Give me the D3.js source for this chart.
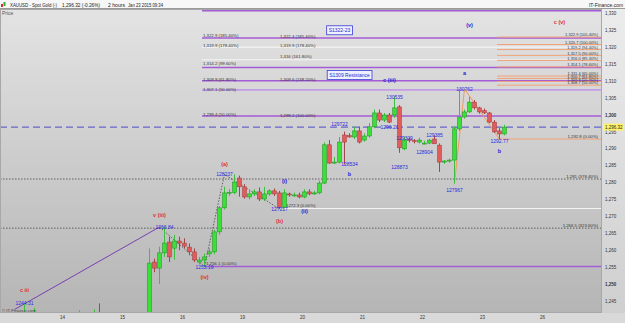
<!DOCTYPE html>
<html>
<head>
<meta charset="utf-8">
<script src="https://cdn.jsdelivr.net/npm/d3@7/dist/d3.min.js"></script>
<style>
  body { margin: 0; background: #fff; }
  text { font-family: "Liberation Sans", Arial, sans-serif; }
</style>
</head>
<body>
<div id="chart"></div>
<script>
const W = 625, H = 323;
const plot = { left: 0, top: 9, right: 602, bottom: 313 };

// day labels on the time axis (bar index of each day start, 2h bars)
const dayTicks = [0, 12, 24, 36, 48, 60, 72, 84, 96];
const dayLabels = ["14", "15", "16", "19", "20", "21", "22", "23", "26"];
const priceTicks = d3.range(1245, 1331, 5);

// 2 hour candles, bar index + OHLC
const bars   = [-8, -6, 3, 6, 7, 17, 18, 19, 20, 21, 22, 23, 24, 25, 26, 27, 28, 29, 30, 31, 32, 33, 34, 35, 36, 37, 38, 39, 40, 41, 42, 43, 44, 45, 46, 47, 48, 49, 50, 51, 52, 53, 54, 55, 56, 57, 58, 59, 60, 61, 62, 63, 64, 65, 66, 67, 68, 69, 70, 71, 72, 73, 74, 75, 76, 77, 78, 79, 80, 81, 82, 83, 84, 85, 86, 87, 88];
const opens  = [1236, 1235, 1234, 1234, 1240, 1233, 1256.5, 1254.7, 1259.2, 1262.4, 1260.6, 1262.7, 1262.1, 1260.9, 1259.5, 1256.5, 1257.1, 1258.9, 1259.5, 1265.4, 1272.5, 1276.9, 1277.0, 1281.3, 1278.7, 1275.7, 1276.6, 1277.2, 1275.1, 1276.6, 1277.5, 1276.9, 1272.7, 1276.6, 1276.3, 1276.3, 1275.7, 1277.2, 1276.6, 1276.9, 1279.8, 1291.1, 1285.9, 1286.0, 1294.0, 1293.8, 1293.4, 1295.2, 1292.5, 1293.7, 1296.4, 1300.5, 1298.4, 1299.9, 1299.9, 1302.3, 1289.9, 1292.8, 1292.4, 1291.9, 1291.6, 1291.6, 1292.8, 1291.0, 1286.0, 1286.3, 1286.6, 1295.8, 1299.3, 1300.8, 1303.7, 1302.0, 1301.2, 1300.5, 1297.8, 1295.2, 1294.3];
const highs  = [1244.31, 1243, 1242.3, 1242.5, 1244.3, 1260.5, 1257.5, 1261, 1266.84, 1264, 1264.5, 1264, 1263.5, 1262, 1260.5, 1258, 1259, 1260.5, 1266, 1273, 1278.7, 1278, 1282.37, 1282, 1279.5, 1277.5, 1278, 1278.5, 1278.7, 1278, 1278.2, 1277.5, 1278, 1277, 1277, 1277, 1278, 1278, 1277.5, 1280.5, 1291.8, 1292.5, 1287.5, 1293.4, 1295, 1294.5, 1296.5, 1296.5, 1294.5, 1297.5, 1301.5, 1301.5, 1300.5, 1300.5, 1305.35, 1302.8, 1293.5, 1293.3, 1292.8, 1293.2, 1292.3, 1292.8, 1293.85, 1291.5, 1286.6, 1287, 1296.5, 1307.62, 1301.5, 1305.3, 1304.3, 1302.3, 1301.8, 1300.8, 1298.4, 1296, 1297];
const lows   = [1230, 1230, 1230, 1230, 1232, 1232, 1253.5, 1250, 1258, 1256.5, 1257.2, 1260, 1260.5, 1258.5, 1256.5, 1255.8, 1255.19, 1258, 1258.8, 1264.5, 1272, 1276, 1276.5, 1275.8, 1275.2, 1275, 1276, 1274.5, 1274.5, 1276, 1276, 1272.17, 1272.5, 1275.8, 1275.8, 1275.3, 1275.3, 1276.2, 1276.3, 1276.5, 1279.5, 1285.5, 1285.5, 1285.6, 1285.34, 1293.2, 1292.8, 1291.5, 1292, 1293.2, 1296, 1297.8, 1297.8, 1297.5, 1299, 1288.73, 1289.5, 1291.8, 1291.5, 1291.5, 1291.3, 1291.3, 1292.3, 1283.1, 1285.5, 1285.8, 1279.67, 1295.2, 1298.8, 1300.5, 1301.5, 1300.3, 1300.2, 1297.5, 1294.6, 1292.77, 1293.9];
const closes = [1240, 1238, 1236, 1238, 1234, 1256.2, 1254.7, 1259.2, 1262.1, 1258.0, 1262.7, 1262.1, 1261.2, 1259.5, 1257.1, 1257.1, 1258.0, 1259.5, 1265.4, 1272.5, 1276.9, 1277.1, 1280.1, 1278.7, 1275.7, 1276.6, 1277.2, 1275.1, 1276.6, 1277.5, 1276.6, 1272.7, 1276.9, 1276.3, 1276.3, 1275.7, 1277.2, 1276.6, 1276.9, 1279.8, 1291.1, 1285.7, 1286.0, 1291.9, 1291.9, 1293.4, 1295.2, 1291.9, 1293.7, 1296.4, 1300.5, 1298.4, 1299.9, 1297.8, 1302.0, 1290.2, 1292.5, 1292.4, 1292.3, 1292.5, 1291.6, 1292.5, 1291.4, 1286.0, 1286.3, 1286.6, 1295.8, 1299.3, 1300.8, 1303.7, 1302.0, 1300.8, 1300.5, 1297.8, 1294.9, 1294.3, 1296.32];

// level lines: price, first bar, kind
const levelPrices = [1330.7, 1322.6, 1319.9, 1316.2, 1313.9, 1310.0, 1307.3, 1299.6, 1281.0, 1266.5, 1272.3, 1255.2, 1292.8];
const levelStart  = [28, 28, 28, 28, 28, 28, 28, 28, -13, -13, 44.6, 28.6, 87];
const levelKind   = ["purple", "purple", "white", "white", "purple", "purple", "lilac", "purple", "dotted", "dotted", "white", "purple", "orange"];
const levelLabels = ["", "", "", "", "", "", "", "", "1,281 (378.40%)", "1,266.5 (323.60%)", "1272.3 (0.00%)", "1,256.1 (0.00%)", "1,292.8 (0.00%)"];

// fib labels of the two projections (anchored at bar 28 and bar 43)
const fibALabelPrices = [1331.4, 1323.0, 1320.0, 1314.6, 1310.0, 1306.9, 1299.6];
const fibALabels = ["1,330.9 (261.80%)", "1,322.9 (185.40%)", "1,319.9 (178.40%)", "1,314.2 (99.60%)", "1,309.9 (61.80%)", "1,307.1 (50.00%)", "1,299.4 (50.00%)"];
const fibBLabelPrices = [1322.7, 1319.9, 1316.6, 1310.0, 1299.4];
const fibBLabels = ["1,322.4 (185.40%)", "1,319.9 (178.40%)", "1,316 (161.80%)", "1,309.6 (138.20%)", "1,299.2 (100.00%)"];

// right hand fib fan from the 1307.62 high
const fibPrices = [1322.9, 1320.7, 1319.2, 1317.5, 1316.0, 1314.1, 1311.4, 1310.7, 1309.8, 1308.7];
const fibLabels = ["1,322.9 (105.40%)", "1,320.7 (100.00%)", "1,319.2 (94.40%)", "1,317.5 (90.00%)", "1,316.0 (85.40%)", "1,314.1 (78.60%)", "1,311.4 (65.00%)", "1,310.7 (61.80%)", "1,309.8 (55.90%)", "1,308.7 (50.00%)"];

// wave count labels: bar, price, text, colour
const waveBars   = [-8, 28, 19, 32, 43, 48, 44, 57, 65, 80, 81, 87, 99];
const wavePrices = [1248.3, 1252.1, 1270.3, 1285.4, 1268.6, 1271.6, 1280.5, 1282.6, 1310.3, 1312.3, 1326.5, 1289.3, 1327.4];
const waveTexts  = ["c iii", "(iv)", "v (iii)", "(a)", "(b)", "(ii)", "(i)", "b", "c (iii)", "a", "(v)", "b", "c (v)"];
const waveColors = ["red", "red", "red", "red", "red", "blue", "blue", "blue", "blue", "blue", "blue", "blue", "red"];

// swing price tags: bar, price, text
const tagBars   = [-8, 20, 28, 32, 43, 55, 57, 66, 65, 67, 68, 72, 74, 78, 80, 87];
const tagPrices = [1244.31, 1266.84, 1255.19, 1282.37, 1272.17, 1297.22, 1285.34, 1305.35, 1296.21, 1288.73, 1293.09, 1289.04, 1293.85, 1279.67, 1307.62, 1292.77];
const tagTexts  = ["1244.31", "1266.84", "1255.19", "128237", "127217", "129722", "128534", "130535", "1296.21", "128873", "129309", "128904", "129385", "127967", "130762", "1292.77"];
const tagShift  = [0, 0, 1, 0, 0, 0, 0, 0, 0, 14, 0, 0, 0, 6, 0, 2];

// swing lines
const purpleSwing = [[-10, 1242.5], [19, 1266.84]];
const dottedSwing = [[19, 1266.84], [28, 1255.19], [32, 1282.37], [43, 1272.17]];
const orangeSwing = [[78, 1279.67], [80, 1307.62], [87, 1292.77]];

// note boxes
const boxTexts = ["S1322-23", "S1309 Resistance"];
const boxBars = [55, 57];
const boxPrices = [1324.9, 1311.7];

// header texts: text, left, width
const header = [["XAUUSD - Spot Gold (-)", 10, 47], ["1,296.32 (-0.26%)", 62, 38], ["2 hours", 108, 17], ["Jan 23 2015 09:34", 128, 35]];

const x = d3.scaleLinear().domain([0, 1]).range([62, 67]);
const y = d3.scaleLinear().domain([1245, 1330]).range([301, 13]);
const cx = i => x(i + 0.5);

const svg = d3.select("#chart").append("svg")
  .attr("width", W).attr("height", H)
  .style("display", "block");

const defs = svg.append("defs");
const bg = defs.append("linearGradient").attr("id", "bg").attr("x1", 0).attr("y1", 0).attr("x2", 0).attr("y2", 1);
bg.append("stop").attr("offset", "0%").attr("stop-color", "#e3e3e3");
bg.append("stop").attr("offset", "100%").attr("stop-color", "#b5b5b5");
const ax = defs.append("linearGradient").attr("id", "axbg").attr("x1", 0).attr("y1", 0).attr("x2", 0).attr("y2", 1);
ax.append("stop").attr("offset", "0%").attr("stop-color", "#ececec");
ax.append("stop").attr("offset", "100%").attr("stop-color", "#cfcfcf");
defs.append("clipPath").attr("id", "clip").append("rect")
  .attr("x", plot.left).attr("y", plot.top)
  .attr("width", plot.right - plot.left).attr("height", plot.bottom - plot.top);

// backgrounds
svg.append("rect").attr("width", W).attr("height", H).attr("fill", "#d9d9d9");
svg.append("rect").attr("x", plot.right).attr("y", plot.top).attr("width", W - plot.right).attr("height", plot.bottom - plot.top).attr("fill", "url(#axbg)");
svg.append("rect").attr("x", plot.left).attr("y", plot.top)
  .attr("width", plot.right - plot.left).attr("height", plot.bottom - plot.top)
  .attr("fill", "url(#bg)");

// title bar
svg.append("rect").attr("width", W).attr("height", plot.top).attr("fill", "#f7f7f7");
svg.append("line").attr("x1", 0).attr("x2", W).attr("y1", plot.top - 0.5).attr("y2", plot.top - 0.5).attr("stroke", "#9a9a9a");
svg.append("rect").attr("x", 1).attr("y", 4).attr("width", 2).attr("height", 3).attr("fill", "#d03030");
svg.append("rect").attr("x", 3.5).attr("y", 2).attr("width", 2).attr("height", 4).attr("fill", "#30b030");
header.forEach(t => {
  svg.append("text").attr("x", t[1]).attr("y", 6.6).attr("font-size", 5.2)
    .attr("textLength", t[2]).attr("lengthAdjust", "spacingAndGlyphs")
    .attr("fill", "#222").text(t[0]);
});
svg.append("text").attr("x", 589).attr("y", 6.6).attr("font-size", 5.2)
  .attr("textLength", 34).attr("lengthAdjust", "spacingAndGlyphs")
  .attr("fill", "#222").text("IT-Finance.com");

const g = svg.append("g").attr("clip-path", "url(#clip)");

g.append("text").attr("x", 2).attr("y", 15).attr("font-size", 5).attr("fill", "#555").text("Price");

// level lines
const levelColor = { purple: "#a35bd6", lilac: "#c39be6", white: "#f4f4f4", dotted: "#444", orange: "#f2a276" };
const levelWidth = { purple: 1.6, lilac: 1.6, white: 1.2, dotted: 0.8, orange: 1 };
levelPrices.forEach((p, k) => {
  const kind = levelKind[k];
  g.append("line")
    .attr("x1", x(levelStart[k])).attr("x2", plot.right)
    .attr("y1", y(p)).attr("y2", y(p))
    .attr("stroke", levelColor[kind]).attr("stroke-width", levelWidth[kind])
    .attr("stroke-dasharray", kind === "dotted" ? "1.5,1.5" : null);
  if (!levelLabels[k]) return;
  const right = kind === "dotted" || kind === "orange";
  g.append("text")
    .attr("x", right ? plot.right - 4 : x(levelStart[k]) + 1)
    .attr("y", y(p) - 1.5)
    .attr("text-anchor", right ? "end" : "start")
    .attr("font-size", 4.3).attr("fill", "#333")
    .text(levelLabels[k]);
});

// projection labels
fibALabels.forEach((t, k) => {
  g.append("text").attr("x", x(28) + 1).attr("y", y(fibALabelPrices[k]))
    .attr("font-size", 4.3).attr("fill", "#333").text(t);
});
fibBLabels.forEach((t, k) => {
  g.append("text").attr("x", x(43.6)).attr("y", y(fibBLabelPrices[k]))
    .attr("font-size", 4.3).attr("fill", "#333").text(t);
});

// fib fan on the right
fibPrices.forEach((p, k) => {
  g.append("line").attr("x1", x(87)).attr("x2", plot.right)
    .attr("y1", y(p)).attr("y2", y(p))
    .attr("stroke", "#f2a276").attr("stroke-width", 1);
  g.append("text").attr("x", plot.right - 4).attr("y", y(p) - 0.8)
    .attr("text-anchor", "end").attr("font-size", 4).attr("fill", "#333")
    .text(fibLabels[k]);
});

// current price dashed line
g.append("line").attr("x1", plot.left).attr("x2", plot.right)
  .attr("y1", y(1296.32)).attr("y2", y(1296.32))
  .attr("stroke", "#4a4ac8").attr("stroke-width", 1).attr("stroke-dasharray", "7,4");

// swing lines
const line = d3.line().x(d => cx(d[0])).y(d => y(d[1]));
g.append("path").datum(purpleSwing).attr("d", line).attr("fill", "none").attr("stroke", "#7a3fb0").attr("stroke-width", 1);
g.append("path").datum(dottedSwing).attr("d", line).attr("fill", "none").attr("stroke", "#444").attr("stroke-width", 0.8).attr("stroke-dasharray", "1.5,1.5");
g.append("path").datum(orangeSwing).attr("d", line).attr("fill", "none").attr("stroke", "#f09a60").attr("stroke-width", 1);

// candles
const candle = g.append("g").selectAll("g").data(bars).join("g");
candle.append("line")
  .attr("x1", d => cx(d)).attr("x2", d => cx(d))
  .attr("y1", (d, k) => y(highs[k])).attr("y2", (d, k) => y(lows[k]))
  .attr("stroke", (d, k) => closes[k] >= opens[k] ? "#3fbf3f" : "#a04848").attr("stroke-width", 1);
candle.append("rect")
  .attr("x", d => x(d) + 0.5).attr("width", 4)
  .attr("y", (d, k) => y(Math.max(opens[k], closes[k])))
  .attr("height", (d, k) => Math.max(1, Math.abs(y(opens[k]) - y(closes[k]))))
  .attr("fill", (d, k) => closes[k] >= opens[k] ? "#38e038" : "#e25c5c")
  .attr("stroke", (d, k) => closes[k] >= opens[k] ? "#1f8f1f" : "#a03a3a").attr("stroke-width", 0.5);

// note boxes
boxTexts.forEach((t, k) => {
  const txt = g.append("text").attr("x", cx(boxBars[k])).attr("y", y(boxPrices[k]) + 1.8)
    .attr("text-anchor", "middle").attr("font-size", 5).attr("fill", "#2a2ad0").text(t);
  const bb = txt.node().getBBox();
  g.insert("rect", "text").attr("x", bb.x - 2).attr("y", y(boxPrices[k]) - 4.5)
    .attr("width", bb.width + 4).attr("height", 9)
    .attr("fill", "#eef0ff").attr("stroke", "#3a3ad8").attr("stroke-width", 0.8);
});

// wave labels
waveTexts.forEach((t, k) => {
  g.append("text").attr("x", cx(waveBars[k])).attr("y", y(wavePrices[k]) + 2)
    .attr("text-anchor", "middle").attr("font-size", 5.5).attr("font-weight", "bold")
    .attr("fill", waveColors[k] === "red" ? "#e03030" : "#2323d8").text(t);
});

// swing tags
tagTexts.forEach((t, k) => {
  g.append("text").attr("x", cx(tagBars[k])).attr("y", y(tagPrices[k]) + 2 + tagShift[k])
    .attr("text-anchor", "middle").attr("font-size", 5).attr("fill", "#2a2ae0").text(t);
});

g.append("text").attr("x", 2).attr("y", 311.5).attr("font-size", 4.3).attr("fill", "#444").text("© IT-Finance.com");

// plot frame
svg.append("rect").attr("x", plot.left + 0.5).attr("y", plot.top + 0.5)
  .attr("width", plot.right - plot.left - 1).attr("height", plot.bottom - plot.top - 1)
  .attr("fill", "none").attr("stroke", "#a8a8a8").attr("stroke-width", 1);

// right price axis
const yAxis = svg.append("g").attr("transform", `translate(${plot.right},0)`)
  .call(d3.axisRight(y).tickValues(priceTicks).tickSize(0).tickPadding(3).tickFormat(d3.format(",")));
yAxis.select(".domain").remove();
yAxis.selectAll("text").attr("font-size", 4.5).attr("fill", "#333")
  .attr("font-weight", d => d % 50 === 0 ? "bold" : null);

// current price tag
svg.append("rect").attr("x", plot.right + 1).attr("y", y(1296.32) - 3.5).attr("width", 21).attr("height", 7).attr("fill", "#fff36a");
svg.append("text").attr("x", plot.right + 3).attr("y", y(1296.32) + 1.7).attr("font-size", 4.5).attr("fill", "#222").text("1,296.32");

// bottom time axis
const xAxis = svg.append("g").attr("transform", `translate(0,${plot.bottom})`)
  .call(d3.axisBottom(x).tickValues(dayTicks).tickSize(0).tickPadding(3).tickFormat((d, k) => dayLabels[k]));
xAxis.select(".domain").remove();
xAxis.selectAll("text").attr("font-size", 4.5).attr("fill", "#333");
</script>
</body>
</html>
